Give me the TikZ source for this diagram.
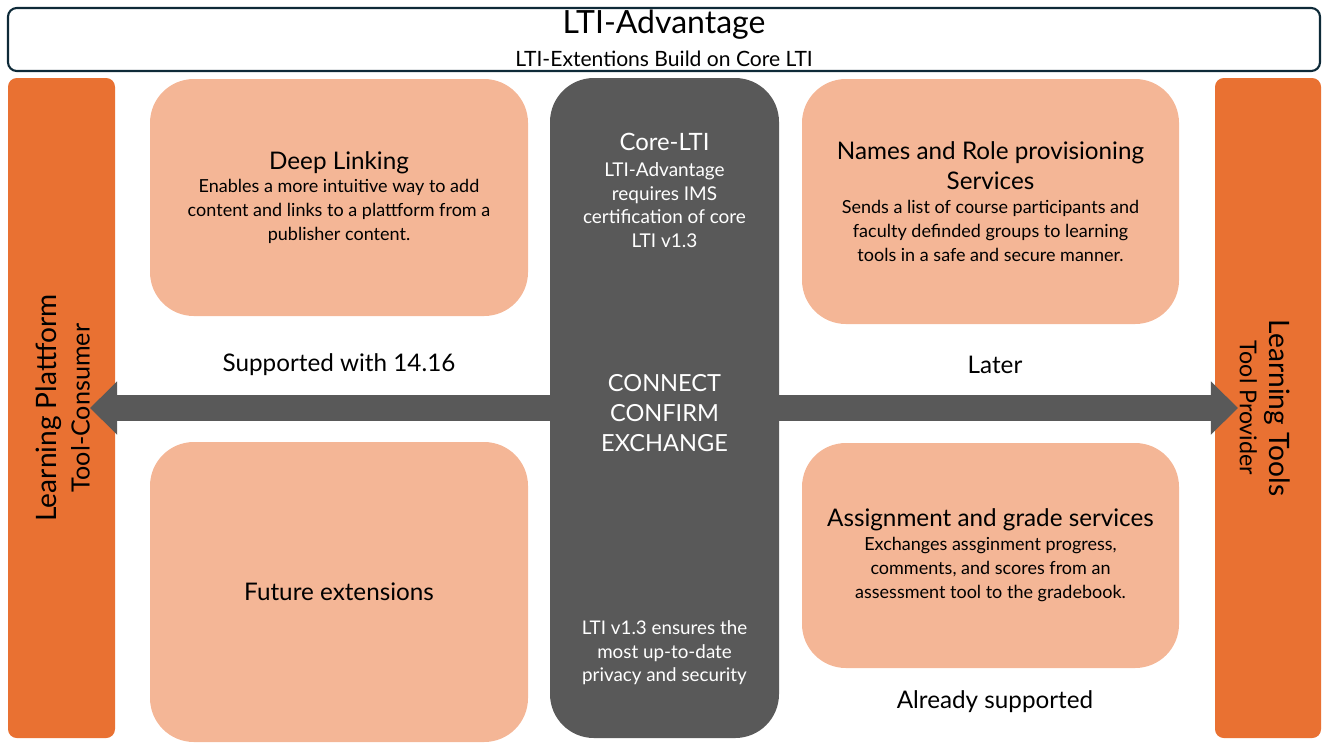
\documentclass[tikz,border=0pt]{standalone}
\usepackage{fontspec}
\setmainfont{Lato}
\usetikzlibrary{arrows.meta}
\definecolor{ltiorange}{HTML}{E97132}
\definecolor{ltipeach}{HTML}{F4B696}
\definecolor{ltigray}{HTML}{595959}
\definecolor{ltinavy}{HTML}{0E2A38}
\newcommand{\px}{0.02cm}
\newcommand{\headfont}{\fontsize{13.8}{17}\selectfont}
\newcommand{\descfont}{\fontsize{10.25}{13.6}\selectfont}
\newcommand{\coredesc}{\fontsize{10.8}{13.3}\selectfont}
\tikzset{
  extbox/.style = {fill = ltipeach, rounded corners = 25pt, inner sep = 0pt,
                   align = center, text = black, font = \descfont},
  sidebar/.style = {fill = ltiorange, rounded corners = 5pt, inner sep = 0pt},
  corebox/.style = {fill = ltigray, rounded corners = 25pt, inner sep = 0pt},
  coretext/.style = {text = white, align = center},
  flow/.style = {ltigray, line width = 14.7pt,
                 {Triangle[width = 29.5pt, length = 15.5pt]}-{Triangle[width = 29.5pt, length = 15.5pt]}},
}
\begin{document}
\begin{tikzpicture}[x = 0.02cm, y = -0.02cm]
  \useasboundingbox (0,0) rectangle (1327,745);
  % header
  \node [draw = ltinavy, line width = 1.2pt, rounded corners = 5pt,
         minimum width = 1312*\px, minimum height = 63*\px] (head) at (664,39.5) {};
  \node [font = \fontsize{18.2}{20}\selectfont] (title) at (664,25) {LTI-Advantage};
  \node [font = \fontsize{12}{14}\selectfont] (subtitle) at (664,59) {LTI-Extentions Build on Core LTI};
  % side bars
  \node [sidebar, minimum width = 107*\px, minimum height = 660*\px] (platform) at (61.5,408) {};
  \node [sidebar, minimum width = 106*\px, minimum height = 660*\px] (tools) at (1268,408) {};
  \node [rotate = 90, align = center, font = \fontsize{14.3}{18.7}\selectfont] (platformtxt) at (63,408)
    {{\fontsize{16}{18.7}\selectfont Learning Plattform}\\Tool-Consumer};
  \node [rotate = -90, align = center, font = \fontsize{13.2}{17}\selectfont] (toolstxt) at (1265,408)
    {{\fontsize{16}{17}\selectfont Learning Tools}\\Tool Provider};
  % exchange arrow
  \coordinate (tipL) at (90,408);
  \coordinate (tipR) at (1238,408);
  \draw [flow] (tipL) -- (tipR);
  % core LTI
  \node [corebox, minimum width = 229*\px, minimum height = 660*\px] (core) at (664.5,408) {};
  \node [coretext, font = \coredesc] (coreinfo) at (664.5,190)
    {{\fontsize{13.6}{16}\selectfont Core-LTI}\\[2pt]
     LTI-Advantage\\requires IMS\\certification of core\\LTI v1.3};
  \node [coretext, font = \fontsize{13.4}{17}\selectfont] (cce) at (664.5,413)
    {CONNECT\\CONFIRM\\EXCHANGE};
  \node [coretext, font = \fontsize{10.7}{13.3}\selectfont] (coresec) at (664.5,653)
    {LTI v1.3 ensures the\\most up-to-date\\privacy and security};
  % extensions
  \node [extbox, minimum width = 378*\px, minimum height = 237*\px] (deeplink) at (339,197.5)
    {{\headfont Deep Linking}\\ Enables a more intuitive way to add\\
     content and links to a plattform from a\\publisher content.};
  \node [extbox, minimum width = 377*\px, minimum height = 245*\px] (nrps) at (990.5,201.5)
    {{\headfont Names and Role provisioning}\\[3.4pt]{\headfont Services}\\
     Sends a list of course participants and\\faculty definded groups to learning\\
     tools in a safe and secure manner.};
  \node [extbox, minimum width = 378*\px, minimum height = 300*\px] (future) at (339,592)
    {\headfont Future extensions};
  \node [extbox, minimum width = 377*\px, minimum height = 225*\px] (ags) at (990.5,555.5)
    {{\headfont Assignment and grade services}\\ Exchanges assginment progress,\\
     comments, and scores from an\\assessment tool to the gradebook.};
  % status labels
  \node [font = \headfont] (supported) at (339,365) {Supported with 14.16};
  \node [font = \headfont] (later) at (995,365) {Later};
  \node [font = \headfont] (already) at (995,702) {Already supported};
\end{tikzpicture}
\end{document}
